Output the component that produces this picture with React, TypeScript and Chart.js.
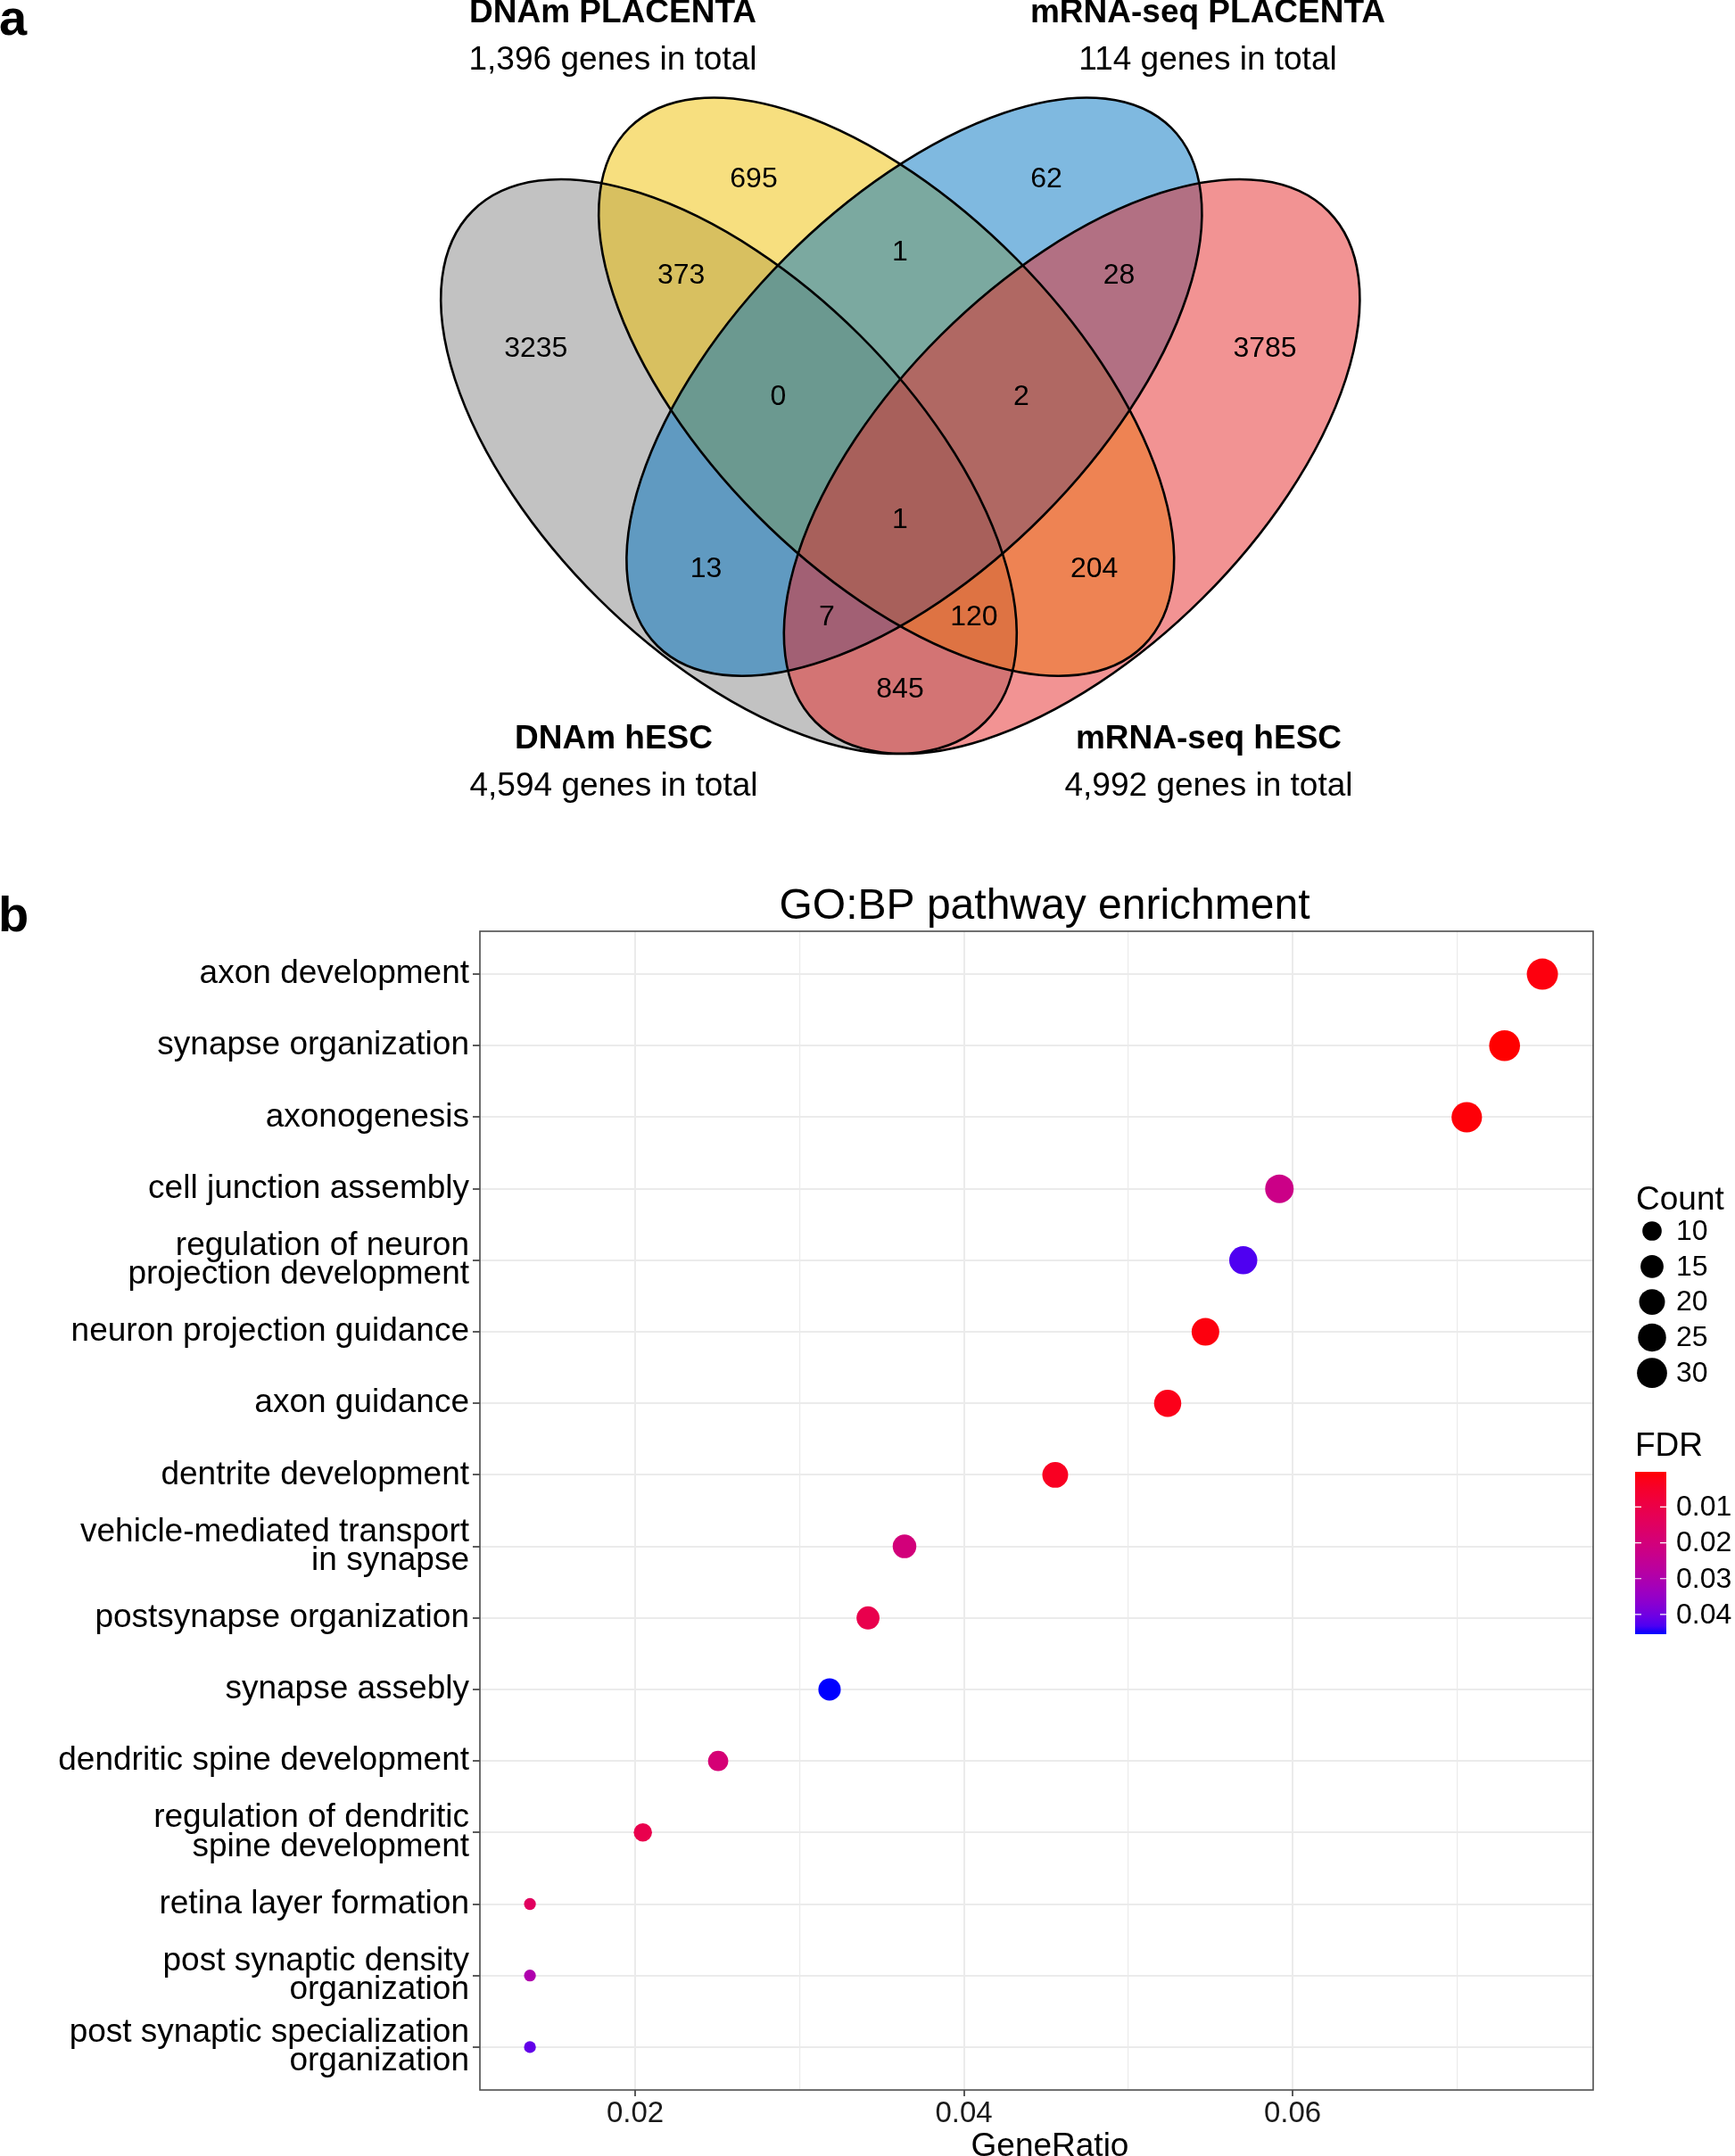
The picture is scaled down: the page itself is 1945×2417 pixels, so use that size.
import React, { useEffect, useRef } from 'react';
import { Chart, registerables } from 'chart.js';
Chart.register(...registerables);

const FONT = '"Liberation Sans", Arial, Helvetica, sans-serif';

// ---------------- Panel a : Venn data ----------------
const vennSetNames = ['DNAm PLACENTA', 'mRNA-seq PLACENTA', 'DNAm hESC', 'mRNA-seq hESC'];
const vennSetTotals = ['1,396 genes in total', '114 genes in total', '4,594 genes in total', '4,992 genes in total'];
const vennRegionCounts = [3235, 695, 62, 3785, 373, 1, 28, 0, 2, 1, 13, 204, 7, 120, 845];

// ---------------- Panel b : GO:BP data ----------------
const goTerms = [
  'axon development',
  'synapse organization',
  'axonogenesis',
  'cell junction assembly',
  'regulation of neuron\nprojection development',
  'neuron projection guidance',
  'axon guidance',
  'dentrite development',
  'vehicle-mediated transport\nin synapse',
  'postsynapse organization',
  'synapse assebly',
  'dendritic spine development',
  'regulation of dendritic\nspine development',
  'retina layer formation',
  'post synaptic density\norganization',
  'post synaptic specialization\norganization',
];
const geneRatio = [0.0752, 0.0729, 0.0706, 0.0592, 0.0570, 0.0547, 0.0524, 0.04556, 0.03639, 0.03417, 0.03183, 0.02505, 0.02047, 0.0136, 0.0136, 0.0136];
const geneCount = [33, 32, 31, 26, 25, 24, 23, 20, 16, 15, 14, 11, 9, 6, 6, 6];
const fdr = [0.0012, 0.0002, 0.0008, 0.0225, 0.0430, 0.0012, 0.0025, 0.0035, 0.0200, 0.0110, 0.0455, 0.0190, 0.0110, 0.0145, 0.0300, 0.0415];
const xTickValues = [0.02, 0.03, 0.04, 0.05, 0.06, 0.07];
const xTickLabels = ['0.02', '', '0.04', '', '0.06', ''];
const countLegendValues = [10, 15, 20, 25, 30];
const fdrLegendValues = [0.01, 0.02, 0.03, 0.04];
const fdrLegendLabels = ['0.01', '0.02', '0.03', '0.04'];

// ---------------- layout (page pixels) ----------------
const W = 1945;
const VENN_H = 950;
const DOT_H = 2417 - VENN_H;
const MIRROR_X = 1009.3;
const vennLabelPos = [
  [600.8, 390.8], [845, 200.7], [1173, 200.7], [1418, 390.8], [763.6, 309.4], [1009, 283.4], [1254.6, 309.4],
  [872.3, 444.8], [1145, 444.8], [1009, 583], [791.6, 637.7], [1226.6, 637.7], [927, 691.7], [1091.9, 691.7], [1009, 773],
];
const setLabelPos = [[687, 15], [1354, 15], [688, 829], [1355, 829]];

type Ell = { cx: number; cy: number; major: number; minor: number; angle: number };
// ellipse geometry in Venn data units (angle of the major axis, degrees, y pointing down)
const grayEllipse: Ell = { cx: 817, cy: 523, major: 405.7, minor: 208, angle: 44.88 };
const yellowEllipse: Ell = { cx: 993.7, cy: 433.6, major: 409, minor: 204.4, angle: 45.24 };
const mirror = (e: Ell): Ell => ({ ...e, cx: 2 * MIRROR_X - e.cx, angle: 180 - e.angle });

// ---------------- colour helpers (CIELAB ramp like ggplot) ----------------
const lin = (c: number) => { c /= 255; return c <= 0.04045 ? c / 12.92 : Math.pow((c + 0.055) / 1.055, 2.4); };
const unlin = (c: number) => { const v = c <= 0.0031308 ? 12.92 * c : 1.055 * Math.pow(c, 1 / 2.4) - 0.055; return Math.round(Math.max(0, Math.min(1, v)) * 255); };
function rgbToLab(rgb: number[]) {
  const [R, G, B] = rgb.map(lin);
  const X = (0.4124 * R + 0.3576 * G + 0.1805 * B) / 0.95047;
  const Y = 0.2126 * R + 0.7152 * G + 0.0722 * B;
  const Z = (0.0193 * R + 0.1192 * G + 0.9505 * B) / 1.08883;
  const f = (t: number) => (t > 0.008856 ? Math.cbrt(t) : 7.787 * t + 16 / 116);
  return [116 * f(Y) - 16, 500 * (f(X) - f(Y)), 200 * (f(Y) - f(Z))];
}
function labToRgb(lab: number[]) {
  const fy = (lab[0] + 16) / 116, fx = fy + lab[1] / 500, fz = fy - lab[2] / 200;
  const inv = (t: number) => (t ** 3 > 0.008856 ? t ** 3 : (t - 16 / 116) / 7.787);
  const X = inv(fx) * 0.95047, Y = inv(fy), Z = inv(fz) * 1.08883;
  const r = 3.2406 * X - 1.5372 * Y - 0.4986 * Z;
  const g = -0.9689 * X + 1.8758 * Y + 0.0415 * Z;
  const b = 0.0557 * X - 0.204 * Y + 1.057 * Z;
  return [unlin(r), unlin(g), unlin(b)];
}
const LAB_LOW = rgbToLab([255, 0, 0]);
const LAB_HIGH = rgbToLab([0, 0, 255]);
const FDR_MIN = Math.min(...fdr);
const FDR_MAX = Math.max(...fdr);
function fdrColor(v: number) {
  const t = Math.max(0, Math.min(1, (v - FDR_MIN) / (FDR_MAX - FDR_MIN)));
  const lab = LAB_LOW.map((l, i) => l + (LAB_HIGH[i] - l) * t);
  const [r, g, b] = labToRgb(lab);
  return `rgb(${r},${g},${b})`;
}
const CMIN = Math.min(...geneCount), CMAX = Math.max(...geneCount);
const sizeRadius = (c: number) => (13.3 + 21.7 * Math.sqrt(Math.max(0, (c - CMIN) / (CMAX - CMIN)))) / 2;

// ---------------- Venn chart ----------------
function VennChart() {
  const ref = useRef<HTMLCanvasElement>(null);
  useEffect(() => {
    const ellipses = [
      { e: grayEllipse, fill: 'rgba(134,134,134,0.5)' },
      { e: yellowEllipse, fill: 'rgba(239,192,0,0.5)' },
      { e: mirror(yellowEllipse), fill: 'rgba(0,115,194,0.5)' },
      { e: mirror(grayEllipse), fill: 'rgba(230,40,40,0.5)' },
    ];
    const path = (chart: any, e: Ell) => {
      const { ctx, scales } = chart;
      const px = scales.x.getPixelForValue(e.cx), py = scales.y.getPixelForValue(e.cy);
      const kx = (scales.x.getPixelForValue(e.cx + 100) - px) / 100;
      const ky = (scales.y.getPixelForValue(e.cy + 100) - py) / 100;
      ctx.save();
      ctx.translate(px, py);
      ctx.scale(kx, ky);
      ctx.rotate((e.angle * Math.PI) / 180);
      ctx.beginPath();
      ctx.ellipse(0, 0, e.major, e.minor, 0, 0, Math.PI * 2);
      ctx.restore();
    };
    const plugin = {
      id: 'vennDraw',
      beforeDatasetsDraw(chart: any) {
        const { ctx } = chart;
        ellipses.forEach(({ e, fill }) => { path(chart, e); ctx.fillStyle = fill; ctx.fill(); });
        ellipses.forEach(({ e }) => { path(chart, e); ctx.strokeStyle = '#000'; ctx.lineWidth = 2.6; ctx.stroke(); });
      },
      afterDatasetsDraw(chart: any) {
        const { ctx, scales } = chart;
        const meta = chart.getDatasetMeta(0);
        ctx.save();
        ctx.fillStyle = '#000';
        ctx.textAlign = 'center';
        ctx.textBaseline = 'middle';
        ctx.font = `32px ${FONT}`;
        meta.data.forEach((pt: any, i: number) => ctx.fillText(String(vennRegionCounts[i]), pt.x, pt.y));
        setLabelPos.forEach((p, i) => {
          const x = scales.x.getPixelForValue(p[0]);
          const y = scales.y.getPixelForValue(p[1]);
          ctx.font = `bold 37px ${FONT}`;
          ctx.fillText(vennSetNames[i], x, y);
          ctx.font = `37px ${FONT}`;
          ctx.fillText(vennSetTotals[i], x, y + 53);
        });
        ctx.font = `bold 56px ${FONT}`;
        ctx.textAlign = 'left';
        ctx.textBaseline = 'alphabetic';
        ctx.fillText('a', -1, 39);
        ctx.restore();
      },
    };
    const chart = new Chart(ref.current as HTMLCanvasElement, {
      type: 'scatter',
      data: {
        datasets: [{
          data: vennLabelPos.map((p) => ({ x: p[0], y: p[1] })),
          pointRadius: 0,
          pointHoverRadius: 0,
        }],
      },
      options: {
        animation: false,
        responsive: false,
        events: [],
        layout: { padding: 0 },
        plugins: { legend: { display: false }, tooltip: { enabled: false } },
        scales: {
          x: { type: 'linear', min: 0, max: W, display: false },
          y: { type: 'linear', min: 0, max: VENN_H, reverse: true, display: false },
        },
      },
      plugins: [plugin],
    } as any);
    return () => chart.destroy();
  }, []);
  return <canvas ref={ref} width={W} height={VENN_H} style={{ position: 'absolute', left: 0, top: 0 }} />;
}

// ---------------- Dot chart ----------------
function DotChart() {
  const ref = useRef<HTMLCanvasElement>(null);
  useEffect(() => {
    const isMajor = (v: number) => xTickLabels[xTickValues.findIndex((t) => Math.abs(t - v) < 1e-9)] !== '';
    const plugin = {
      id: 'dotExtras',
      afterDraw(chart: any) {
        const { ctx, chartArea: a } = chart;
        ctx.save();
        ctx.strokeStyle = '#4d4d4d';
        ctx.lineWidth = 1.6;
        ctx.strokeRect(a.left, a.top, a.right - a.left, a.bottom - a.top);
        ctx.fillStyle = '#000';
        ctx.font = `48px ${FONT}`;
        ctx.textAlign = 'center';
        ctx.textBaseline = 'middle';
        ctx.fillText('GO:BP pathway enrichment', 1171, 67);
        ctx.font = `37px ${FONT}`;
        ctx.textBaseline = 'alphabetic';
        ctx.fillText('GeneRatio', 1177, 1467);
        ctx.font = `bold 56px ${FONT}`;
        ctx.textAlign = 'left';
        ctx.fillText('b', -2, 94);
        // Count legend
        ctx.font = `37px ${FONT}`;
        ctx.textBaseline = 'middle';
        ctx.fillText('Count', 1834, 396);
        ctx.font = `32px ${FONT}`;
        countLegendValues.forEach((c, i) => {
          const y = 430 + i * 39.8;
          ctx.beginPath();
          ctx.arc(1852, y, sizeRadius(c), 0, Math.PI * 2);
          ctx.fillStyle = '#000';
          ctx.fill();
          ctx.fillText(String(c), 1879, y + 1);
        });
        // FDR legend
        ctx.font = `37px ${FONT}`;
        ctx.fillText('FDR', 1833, 672);
        const bx = 1833, bw = 35, by = 700, bh = 182;
        const grad = ctx.createLinearGradient(0, by, 0, by + bh);
        for (let k = 0; k <= 20; k++) {
          const v = FDR_MIN + (FDR_MAX - FDR_MIN) * (k / 20);
          grad.addColorStop(k / 20, fdrColor(v));
        }
        ctx.fillStyle = grad;
        ctx.fillRect(bx, by, bw, bh);
        ctx.strokeStyle = '#fff';
        ctx.lineWidth = 1.2;
        ctx.font = `32px ${FONT}`;
        ctx.fillStyle = '#000';
        fdrLegendValues.forEach((v, i) => {
          const y = by + ((v - FDR_MIN) / (FDR_MAX - FDR_MIN)) * bh;
          ctx.beginPath();
          ctx.moveTo(bx, y); ctx.lineTo(bx + 7, y);
          ctx.moveTo(bx + bw - 7, y); ctx.lineTo(bx + bw, y);
          ctx.stroke();
          ctx.fillText(fdrLegendLabels[i], 1879, y + 1);
        });
        ctx.restore();
      },
    };
    const chart = new Chart(ref.current as HTMLCanvasElement, {
      type: 'scatter',
      data: {
        datasets: [{
          data: goTerms.map((_, i) => ({ x: geneRatio[i], y: i })),
          pointRadius: geneCount.map(sizeRadius),
          pointHoverRadius: geneCount.map(sizeRadius),
          pointBackgroundColor: fdr.map(fdrColor),
          pointBorderWidth: 0,
          clip: false,
        }],
      },
      options: {
        animation: false,
        responsive: false,
        events: [],
        layout: { padding: { left: 0, right: W - 1786, top: 94, bottom: 0 } },
        plugins: { legend: { display: false }, tooltip: { enabled: false } },
        scales: {
          x: {
            type: 'linear',
            min: 0.010556,
            max: 0.07829,
            afterBuildTicks: (s: any) => { s.ticks = xTickValues.map((v) => ({ value: v })); },
            afterFit: (s: any) => { s.height = 74; },
            ticks: {
              autoSkip: false,
              maxRotation: 0,
              padding: 0,
              color: '#1a1a1a',
              font: { family: FONT, size: 33 },
              callback: (v: any) => { const i = xTickValues.findIndex((t) => Math.abs(t - v) < 1e-9); return i >= 0 ? xTickLabels[i] : ''; },
            },
            grid: {
              color: '#ebebeb',
              lineWidth: (c: any) => (c.tick && isMajor(c.tick.value) ? 2 : 1.2),
              tickLength: 7,
              tickWidth: 1.6,
              tickColor: (c: any) => (c.tick && isMajor(c.tick.value) ? '#333' : 'rgba(0,0,0,0)'),
            },
            border: { display: false },
          },
          y: {
            type: 'linear',
            min: -0.6,
            max: goTerms.length - 1 + 0.6,
            reverse: true,
            afterBuildTicks: (s: any) => { s.ticks = goTerms.map((_, i) => ({ value: i })); },
            afterFit: (s: any) => { s.width = 538; },
            ticks: {
              autoSkip: false,
              padding: 4,
              color: '#000',
              font: { family: FONT, size: 37, lineHeight: 0.88 },
              callback: (v: any) => { const t = goTerms[Math.round(v)]; return t ? t.split('\n') : ''; },
            },
            grid: { color: '#ebebeb', lineWidth: 2, tickLength: 8, tickWidth: 1.6, tickColor: '#333' },
            border: { display: false },
          },
        },
      },
      plugins: [plugin],
    } as any);
    return () => chart.destroy();
  }, []);
  return <canvas ref={ref} width={W} height={DOT_H} style={{ position: 'absolute', left: 0, top: VENN_H }} />;
}

export default function App() {
  useEffect(() => {
    document.body.style.margin = '0';
    document.body.style.overflow = 'hidden';
  }, []);
  Chart.defaults.font.family = FONT;
  return (
    <div style={{ position: 'relative', width: W, height: 2417, background: '#fff', overflow: 'hidden' }}>
      <VennChart />
      <DotChart />
    </div>
  );
}
